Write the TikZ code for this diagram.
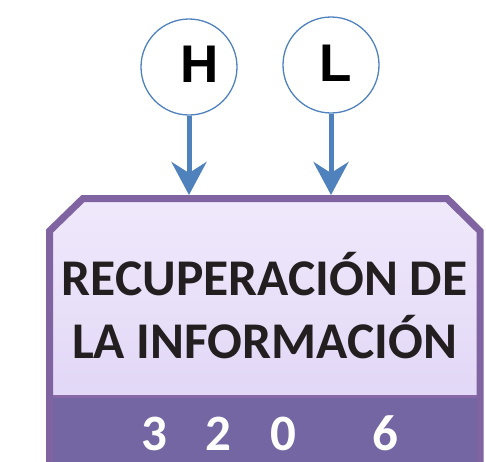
\documentclass[tikz,border=0pt]{standalone}
\usepackage{fontspec}
\setmainfont{Carlito}
\newfontfamily\arialbold{Liberation Sans}[BoldFont={* Bold}]
\usetikzlibrary{arrows.meta}
\definecolor{cblue}{HTML}{4F81BD}
\definecolor{cpurple}{HTML}{8064A2}
\definecolor{ctop}{HTML}{F0E9FB}
\definecolor{cbot}{HTML}{DCD1F5}
\definecolor{cband}{HTML}{7366A2}
\definecolor{cline}{HTML}{8868A6}
\definecolor{ctext}{HTML}{231F20}
\tikzset{
  ring/.style={circle, draw=cblue, line width=1.3pt, minimum size=96pt, inner sep=0pt},
  letter/.style={anchor=base, inner sep=0pt, font=\arialbold\bfseries\fontsize{53}{53}\selectfont, text=black},
  feed/.style={draw=cblue, line width=5pt, -{Stealth[length=33pt, width=35pt, inset=11pt]}},
  title/.style={anchor=base, inner sep=0pt, font=\bfseries\fontsize{51.5}{51.5}\selectfont, text=ctext},
  digit/.style={anchor=base, inner sep=0pt, font=\bfseries\fontsize{51}{51}\selectfont, text=white},
}
\begin{document}
\begin{tikzpicture}[x=1pt, y=-1pt]
\useasboundingbox (0,0) rectangle (486,461);
\clip (0,0) rectangle (486,461);
% light body
\shade[top color=ctop, bottom color=cbot]
  (49.5,470) -- (49.5,231) -- (83,198.5) -- (447,198.5) -- (480,231) -- (480,470) -- cycle;
% bottom band
\fill[cband] (49.5,396) rectangle (480,470);
\draw[cline, line width=3pt] (53,396) -- (476.5,396);
% border
\draw[cpurple, line width=7pt, line join=miter]
  (49.5,475) -- (49.5,231) -- (83,198.5) -- (447,198.5) -- (480,231) -- (480,475);
% texts in box
\node[title] (t1) at (264.5,295) {RECUPERACIÓN DE};
\node[title] (t2) at (264.5,358) {LA INFORMACIÓN};
\node[digit] (d3) at (154,450) {3};
\node[digit] (d2) at (218,450) {2};
\node[digit] (d0) at (283,450) {0};
\node[digit] (d6) at (385,450) {6};
% circles
\node[ring] (hc) at (189,67) {};
\node[ring] (lc) at (331,65) {};
\node[letter] (ht) at (200,82) {H};
\node[letter] (lt) at (336,81) {L};
\coordinate (hend) at (189,195);
\coordinate (lend) at (331,195);
\draw[feed] (hc.south) -- (hend);
\draw[feed] (lc.south) -- (lend);
\end{tikzpicture}
\end{document}
